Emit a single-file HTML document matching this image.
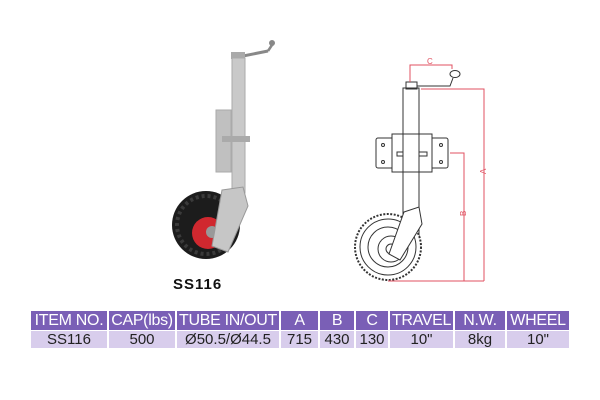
<!DOCTYPE html>
<html><head><style>
body{margin:0;width:600px;height:400px;background:#fff;overflow:hidden;font-family:"Liberation Sans",sans-serif;position:relative}
table{position:absolute;left:31px;top:311px;border-collapse:collapse;table-layout:fixed}
td{padding:0;text-align:center;border-left:2px solid #fff;white-space:nowrap;overflow:hidden}
td:first-child{border-left:none}
tr.h td{background:#7a5fb6;color:#fff;height:19px;font-size:16px;letter-spacing:-0.3px}
tr.r td{background:#d8cdec;color:#222;height:17px;font-size:15px;border-top:1px solid #fff}
</style></head><body>
<svg width="600" height="310" style="position:absolute;left:0;top:0">
<g>
<path d="M238 57 L258 53 L268 51" stroke="#888" stroke-width="3" fill="none"/>
<line x1="268" y1="51" x2="272" y2="45" stroke="#888" stroke-width="2.5"/>
<circle cx="272" cy="43" r="3" fill="#888"/>
<rect x="231" y="52" width="14" height="7" fill="#aaa"/>
<rect x="232" y="58" width="13" height="135" fill="#c9c9c9" stroke="#aaa"/>
<rect x="216" y="110" width="15" height="62" fill="#c0c0c0" stroke="#aaa"/>
<rect x="222" y="136" width="28" height="6" fill="#aaa"/>
<circle cx="206" cy="225" r="34" fill="#1c1c1c"/>
<circle cx="206" cy="225" r="29" fill="none" stroke="#3a3a3a" stroke-width="4" stroke-dasharray="3 3"/>
<circle cx="208" cy="233" r="16" fill="#d0282f"/>
<circle cx="212" cy="232" r="6" fill="#999"/>
<path d="M222 190 L243 187 L248 206 L228 252 L212 246 Z" fill="#c6c6c6" stroke="#999"/>
<text x="173" y="289" font-size="15" font-weight="bold" fill="#111" letter-spacing="1">SS116</text>
</g>
<g stroke="#333" fill="none" stroke-width="1">
<rect x="403" y="88" width="16" height="160" fill="#fff"/>
<rect x="406" y="82" width="11" height="7"/>
<path d="M417 86 L450 86 L453 78"/>
<ellipse cx="455" cy="74" rx="5" ry="3.5"/>
<rect x="376" y="138" width="18" height="30" rx="2" fill="#fff"/>
<rect x="430" y="138" width="18" height="30" rx="2" fill="#fff"/>
<rect x="392" y="134" width="40" height="38" fill="#fff"/>
<rect x="397" y="152" width="30" height="4"/>
<rect x="403" y="134" width="16" height="38" fill="#fff"/>
<circle cx="383" cy="145" r="1.5"/><circle cx="383" cy="162" r="1.5"/>
<circle cx="441" cy="145" r="1.5"/><circle cx="441" cy="162" r="1.5"/>
<circle cx="388" cy="247" r="33" fill="#fff" stroke-width="2" stroke-dasharray="2 1.5"/>
<circle cx="388" cy="247" r="28"/>
<circle cx="388" cy="247" r="20"/>
<circle cx="391" cy="249" r="13"/>
<circle cx="391" cy="249" r="5"/>
<path d="M404 212 L419 207 L422 224 L400 260 L389 254 Z" fill="#fff"/>
</g>
<g stroke="#e05060" fill="none" stroke-width="1">
<path d="M410 82 V65 H452 V69"/>
<path d="M421 89 H484 V281"/>
<path d="M450 153 H464 V281"/>
<path d="M388 281 H484"/>
</g>
<g fill="#e05060" font-size="8">
<text x="427" y="64">C</text>
<text x="480" y="176" transform="rotate(-90 482 172)">A</text>
<text x="460" y="218" transform="rotate(-90 462 214)">B</text>
</g>
</svg>
<table>
<colgroup><col style="width:77px"><col style="width:68px"><col style="width:104px"><col style="width:39px"><col style="width:36px"><col style="width:34px"><col style="width:65px"><col style="width:52px"><col style="width:63px"></colgroup>
<tr class="h"><td>ITEM NO.</td><td>CAP(lbs)</td><td>TUBE IN/OUT</td><td>A</td><td>B</td><td>C</td><td>TRAVEL</td><td>N.W.</td><td>WHEEL</td></tr>
<tr class="r"><td>SS116</td><td>500</td><td>Ø50.5/Ø44.5</td><td>715</td><td>430</td><td>130</td><td>10"</td><td>8kg</td><td>10"</td></tr>
</table>
</body></html>
